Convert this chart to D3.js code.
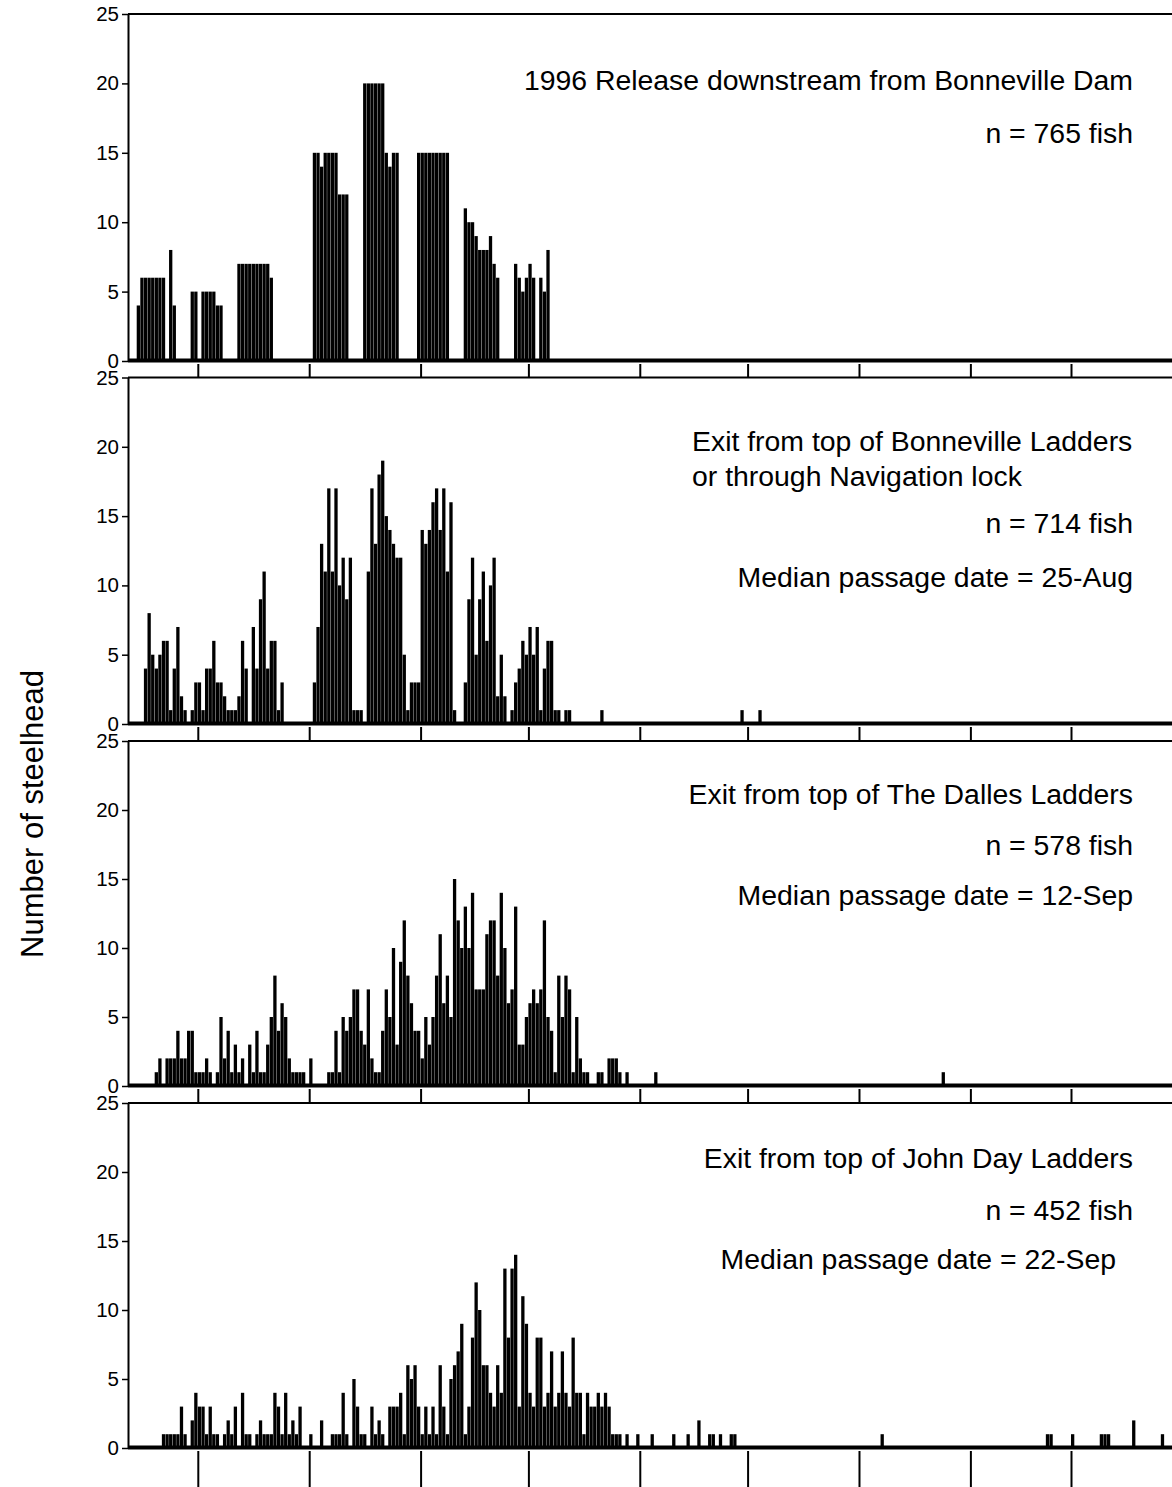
<!DOCTYPE html>
<html>
<head>
<meta charset="utf-8">
<script src="https://cdn.jsdelivr.net/npm/d3@7"></script>
<style>
  body { margin: 0; background: #fff; }
  svg { display: block; }
  text { font-family: "Liberation Sans", Arial, sans-serif; fill: #000; }
</style>
</head>
<body>
<svg id="chart" width="1172" height="1487"></svg>
<script>
// Daily counts of radio-tagged steelhead, one value per day from each start date,
// plus isolated late passages listed by date.
const yTickValues = [0, 5, 10, 15, 20, 25];

const releaseStart = "1996-06-14";
const releaseCounts = [4, 6,6,6,6,6,6,6, 0, 8, 4, 0,0,0,0, 5,5, 0, 5,5,5,5, 4,4, 0,0,0,0,
  7,7,7,7,7,7,7,7,7, 6, 0,0,0,0,0,0,0,0,0,0,0, 15,15,14,15,15,15,15, 12,12,12, 0,0,0,0,
  20,20,20,20,20,20, 15,14,15,15, 0,0,0,0,0, 15,15,15,15,15,15,15,15,15, 0,0,0,0,
  11,10,10,9,8,8,8,9,7,6, 0,0,0,0, 7,6,5,6,7,6,0,6,5,8];
const releaseLate = [];

const bonnevilleStart = "1996-06-16";
const bonnevilleCounts = [4,8,5,4,5,6,6,1,4,7, 2,1,0,1,3,3,1,4,4,6, 3,3,2,1,1,1,2,6,4,0,
  7,4,9,11,4,6,6,1,3, 0,0,0,0,0,0,0,0, 3,7,13,11,17,11,17,10,12,9,12,1,1,1, 0,
  11,17,13,18,19,15,14,13,12,12,5,1,3,3,3,14,13,14,16,17,14,17,11,16,1, 0,0,
  3,9,12,5,9,11,6,10,12,2,5,2,0,1,3,4,6,5,7,5,7,1,4,6,6,1,1, 0, 1,1];
const bonnevilleLate = [["1996-10-21", 1], ["1996-11-29", 1], ["1996-12-04", 1]];

const dallesStart = "1996-06-19";
const dallesCounts = [1,2,0,2,2,2,4,2,2,4, 4,1,1,1,2,1,0,1,5,2, 4,1,3,1,2,0,3,1,4,1,
  1,3,5,8,4,6,5,2,1,1, 1,1,0,2,0,0,0,0,1,1, 4,1,5,4,5,7,7,4,3,7, 2,1,1,4,7,5,10,3,9,12,
  8,6,4,4,2,5,3,5,8,11, 6,8,5,15,12, 10,13,10,14,7,7,7,
  11,12,12,8,14,10,6,7,13,3, 3,5,6,7,6,7,12,5,4,1, 8,5,8,7,1,5,2,1,1,0,
  0,1,1,0,2,2,2,1,0,1, 0,0,0,0,0,0,0,1];
const dallesLate = [["1997-01-24", 1]];

const johnDayStart = "1996-06-21";
const johnDayCounts = [1,1,1,1,1, 3,1,0,2,4, 3,3,1,3,1,1,0,1,2,1, 3,0,4,1,1,0,1,2,1,1,
  1,4,3,1,4,1,2,1,3,0, 0,1,0,0,2,0,0,1,1,1, 4,1,0,5,3,1,1,0,3,1, 2,1,0,3,3,3,4,1,6,5,
  6,3,1,3,1,3,1,6,3,1, 5,6,7,9,1,3,8,12,10,6, 6,4,3,6,4,13,8,13,14,3, 11,9,4,3,8,8,3,4,7,3,
  4,7,4,3,8,4,4,1,4,3, 3,4,3,4,3,1,1,1,0,1, 0,0,1];
const johnDayLate = [["1996-11-04", 1], ["1996-11-10", 1], ["1996-11-14", 1], ["1996-11-17", 2],
  ["1996-11-20", 1], ["1996-11-21", 1], ["1996-11-23", 1], ["1996-11-26", 1], ["1996-11-27", 1],
  ["1997-01-07", 1], ["1997-02-22", 1], ["1997-02-23", 1], ["1997-03-01", 1], ["1997-03-09", 1],
  ["1997-03-10", 1], ["1997-03-11", 1], ["1997-03-18", 2], ["1997-03-26", 1]];

const panelTitles = [
  ["1996 Release downstream from Bonneville Dam", "n = 765 fish"],
  ["Exit from top of Bonneville Ladders", "or through Navigation lock", "n = 714 fish", "Median passage date = 25-Aug"],
  ["Exit from top of The Dalles Ladders", "n = 578 fish", "Median passage date = 12-Sep"],
  ["Exit from top of John Day Ladders", "n = 452 fish", "Median passage date = 22-Sep"]
];
const yAxisTitle = "Number of steelhead";

// ---- layout ----
const W = 1172, H = 1487;
const axisX = 128;
const parse = d3.utcParse("%Y-%m-%d");

const panels = [
  { start: releaseStart, counts: releaseCounts, late: releaseLate, top: 14, zero: 361,
    text: [[1133, 90, "end"], [1133, 143, "end"]] },
  { start: bonnevilleStart, counts: bonnevilleCounts, late: bonnevilleLate, top: 377.5, zero: 724,
    text: [[692, 451, "start"], [692, 486, "start"], [1133, 533, "end"], [1133, 587, "end"]] },
  { start: dallesStart, counts: dallesCounts, late: dallesLate, top: 741, zero: 1086,
    text: [[1133, 804, "end"], [1133, 855, "end"], [1133, 905, "end"]] },
  { start: johnDayStart, counts: johnDayCounts, late: johnDayLate, top: 1103, zero: 1448,
    text: [[1133, 1168, "end"], [1133, 1220, "end"], [1116, 1269, "end"]] }
];

const x = d3.scaleUtc()
  .domain([parse("1996-07-01"), parse("1997-03-01")])
  .range([197.8, 1071]);
const dayW = x(parse("1996-07-02")) - x(parse("1996-07-01"));
const xEnd = x.invert(W + 20);
const monthTicks = d3.utcMonth.range(d3.utcMonth.ceil(x.invert(axisX)), xEnd);

const svg = d3.select("#chart");

panels.forEach((p, pi) => {
  const y = d3.scaleLinear().domain([0, 25]).range([p.zero, p.top]);
  const g = svg.append("g");
  const last = pi === panels.length - 1;

  const start = parse(p.start);
  const days = p.counts.map((c, i) => ({ date: d3.utcDay.offset(start, i), c }))
    .concat(p.late.map(([d, c]) => ({ date: parse(d), c })))
    .filter(d => d.c > 0);

  g.selectAll("rect.bar").data(days).join("rect")
    .attr("class", "bar")
    .attr("x", d => x(d.date))
    .attr("width", dayW - 0.3)
    .attr("y", d => y(d.c))
    .attr("height", d => p.zero - y(d.c))
    .attr("fill", "#000");

  // frame: top edge at 25 and thick baseline at 0
  g.append("line").attr("x1", axisX).attr("x2", W + 5)
    .attr("y1", y(25)).attr("y2", y(25)).attr("stroke", "#000").attr("stroke-width", 2);
  g.append("line").attr("x1", axisX).attr("x2", W + 5)
    .attr("y1", p.zero - 0.5).attr("y2", p.zero - 0.5).attr("stroke", "#000").attr("stroke-width", 4);

  // y axis
  const ya = g.append("g").attr("transform", `translate(${axisX},0)`)
    .call(d3.axisLeft(y).tickValues(yTickValues).tickSize(6).tickSizeOuter(0).tickPadding(3));
  ya.select(".domain").attr("stroke-width", 2);
  ya.selectAll(".tick line").attr("stroke-width", 1.5);
  ya.selectAll(".tick text").attr("font-size", 20.5).attr("font-family", "Liberation Sans, Arial, sans-serif");

  // monthly x ticks hanging below the baseline
  const tickLen = last ? H - p.zero - 3 : 13;
  const xa = g.append("g").attr("transform", `translate(0,${p.zero + 3})`)
    .call(d3.axisBottom(x).tickValues(monthTicks).tickSize(tickLen).tickFormat(""));
  xa.select(".domain").remove();
  xa.selectAll(".tick line").attr("stroke-width", 2);

  // panel annotations
  g.selectAll("text.note").data(panelTitles[pi]).join("text")
    .attr("class", "note")
    .attr("x", (d, i) => p.text[i][0])
    .attr("y", (d, i) => p.text[i][1])
    .attr("text-anchor", (d, i) => p.text[i][2])
    .attr("font-size", 28.4)
    .text(d => d);
});

svg.append("text")
  .attr("transform", "translate(43,814) rotate(-90)")
  .attr("text-anchor", "middle")
  .attr("font-size", 31)
  .text(yAxisTitle);
</script>
</body>
</html>
